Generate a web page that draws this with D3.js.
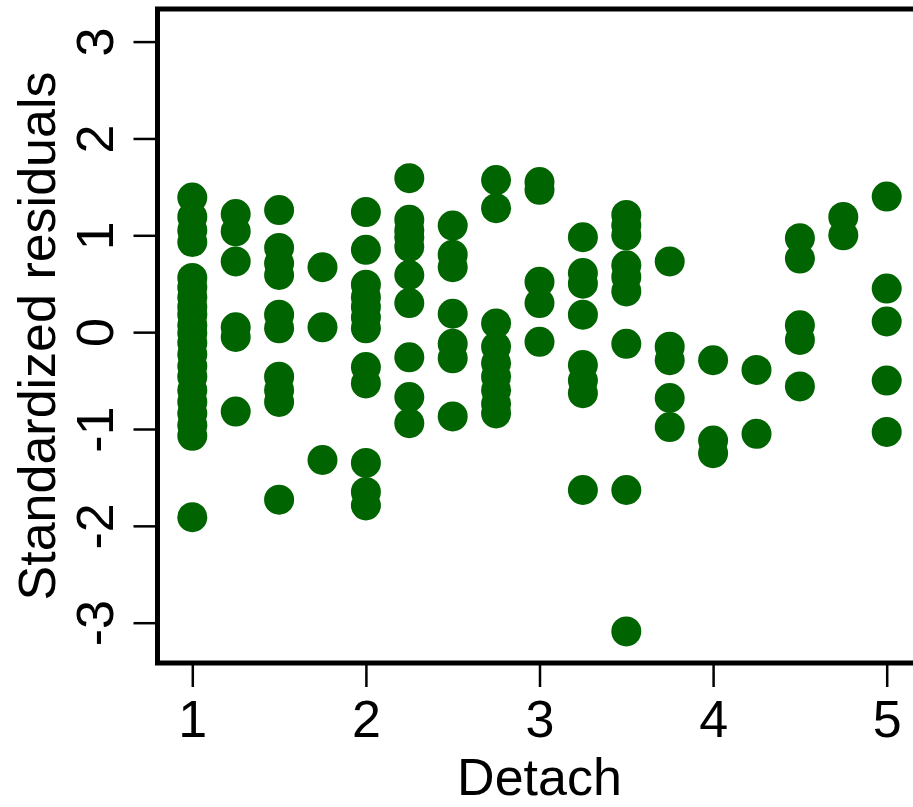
<!DOCTYPE html>
<html>
<head>
<meta charset="utf-8">
<script src="https://cdn.jsdelivr.net/npm/d3@7/dist/d3.min.js"></script>
<style>
  html, body { margin: 0; padding: 0; background: #ffffff; }
  svg { display: block; }
  text { font-family: "Liberation Sans", Arial, Helvetica, sans-serif; fill: #000; }
</style>
</head>
<body>
<script>
// ---- data ----
const detachLevels = [1, 1.25, 1.5, 1.75, 2, 2.25, 2.5, 2.75, 3, 3.25, 3.5, 3.75, 4, 4.25, 4.5, 4.75, 5];
const residualsByLevel = [
  [1.39, 1.19, 1.05, 0.93, 0.56, 0.46, 0.36, 0.26, 0.18, 0.07, -0.01, -0.11, -0.23, -0.35, -0.46, -0.60, -0.72, -0.84, -0.96, -1.07, -1.91],
  [1.22, 1.04, 0.73, 0.05, -0.05, -0.82],
  [1.26, 0.87, 0.71, 0.59, 0.18, 0.04, -0.46, -0.60, -0.72, -1.73],
  [0.67, 0.05, -1.32],
  [1.24, 0.85, 0.49, 0.36, 0.26, 0.15, 0.04, -0.36, -0.53, -1.35, -1.65, -1.79],
  [1.59, 1.16, 1.05, 0.98, 0.88, 0.59, 0.30, -0.26, -0.67, -0.94],
  [1.10, 0.80, 0.67, 0.19, -0.12, -0.27, -0.87],
  [1.57, 1.28, 0.09, -0.15, -0.32, -0.46, -0.60, -0.74, -0.84],
  [1.55, 1.47, 0.52, 0.30, -0.10],
  [0.98, 0.61, 0.50, 0.18, -0.34, -0.50, -0.63, -1.63],
  [1.21, 1.10, 1.00, 0.69, 0.57, 0.42, -0.12, -1.63, -3.09],
  [0.73, -0.15, -0.29, -0.68, -0.98],
  [-0.29, -1.12, -1.25],
  [-0.39, -1.05],
  [0.97, 0.76, 0.07, -0.08, -0.56],
  [1.19, 1.00],
  [1.40, 0.45, 0.11, -0.50, -1.03]
];
const xTicks = [1, 2, 3, 4, 5];
const yTicks = [-3, -2, -1, 0, 1, 2, 3];
const xTitle = "Detach";
const yTitle = "Standardized residuals";

// ---- layout ----
const W = 913, H = 807;
const plotLeft = 157.5, plotTop = 9, plotBottom = 663;
const xScale = d3.scaleLinear().domain([1, 5]).range([192.3, 886.7]);
const yScale = d3.scaleLinear().domain([-3, 3]).range([622.7, 41.6]);
const plotRight = xScale(5.2);

const svg = d3.select("body").append("svg").attr("width", W).attr("height", H);

// points
const points = [];
detachLevels.forEach((d, i) => residualsByLevel[i].forEach(r => points.push({x: d, y: r})));
svg.append("g").selectAll("circle").data(points).join("circle")
  .attr("cx", d => xScale(d.x))
  .attr("cy", d => yScale(d.y))
  .attr("r", 15)
  .attr("fill", "#006400");

// box
svg.append("rect")
  .attr("x", plotLeft).attr("y", plotTop)
  .attr("width", plotRight - plotLeft).attr("height", plotBottom - plotTop)
  .attr("fill", "none").attr("stroke", "#000").attr("stroke-width", 5);

// x axis
const xAxis = d3.axisBottom(xScale).tickValues(xTicks).tickSize(24).tickPadding(8).tickFormat(d3.format("d"));
const gx = svg.append("g").attr("transform", `translate(0,${plotBottom})`).call(xAxis);
gx.select(".domain").remove();
gx.selectAll(".tick line").attr("stroke", "#000").attr("stroke-width", 2.5);
gx.selectAll(".tick text").attr("font-size", 52).attr("font-family", "'Liberation Sans', Arial, sans-serif")
  .attr("y", null).attr("dy", null).attr("transform", null)
  .attr("dominant-baseline", null)
  .each(function() { d3.select(this).attr("y", 737 - plotBottom).attr("dy", 0); });

// y axis
const yAxis = d3.axisLeft(yScale).tickValues(yTicks).tickSize(24).tickFormat(d3.format("d"));
const gy = svg.append("g").attr("transform", `translate(${plotLeft},0)`).call(yAxis);
gy.select(".domain").remove();
gy.selectAll(".tick line").attr("stroke", "#000").attr("stroke-width", 2.5);
gy.selectAll(".tick text")
  .attr("font-size", 52).attr("font-family", "'Liberation Sans', Arial, sans-serif")
  .attr("x", null).attr("dy", null)
  .attr("text-anchor", "middle")
  .attr("transform", `translate(${113 - plotLeft},0) rotate(-90)`)
  .text(d => d < 0 ? "-" + Math.abs(d) : String(d));

// titles
svg.append("text")
  .attr("x", 539.5).attr("y", 795)
  .attr("text-anchor", "middle").attr("font-size", 52)
  .text(xTitle);
svg.append("text")
  .attr("transform", `translate(55,${(plotTop + plotBottom) / 2}) rotate(-90)`)
  .attr("text-anchor", "middle").attr("font-size", 52)
  .text(yTitle);
</script>
</body>
</html>
